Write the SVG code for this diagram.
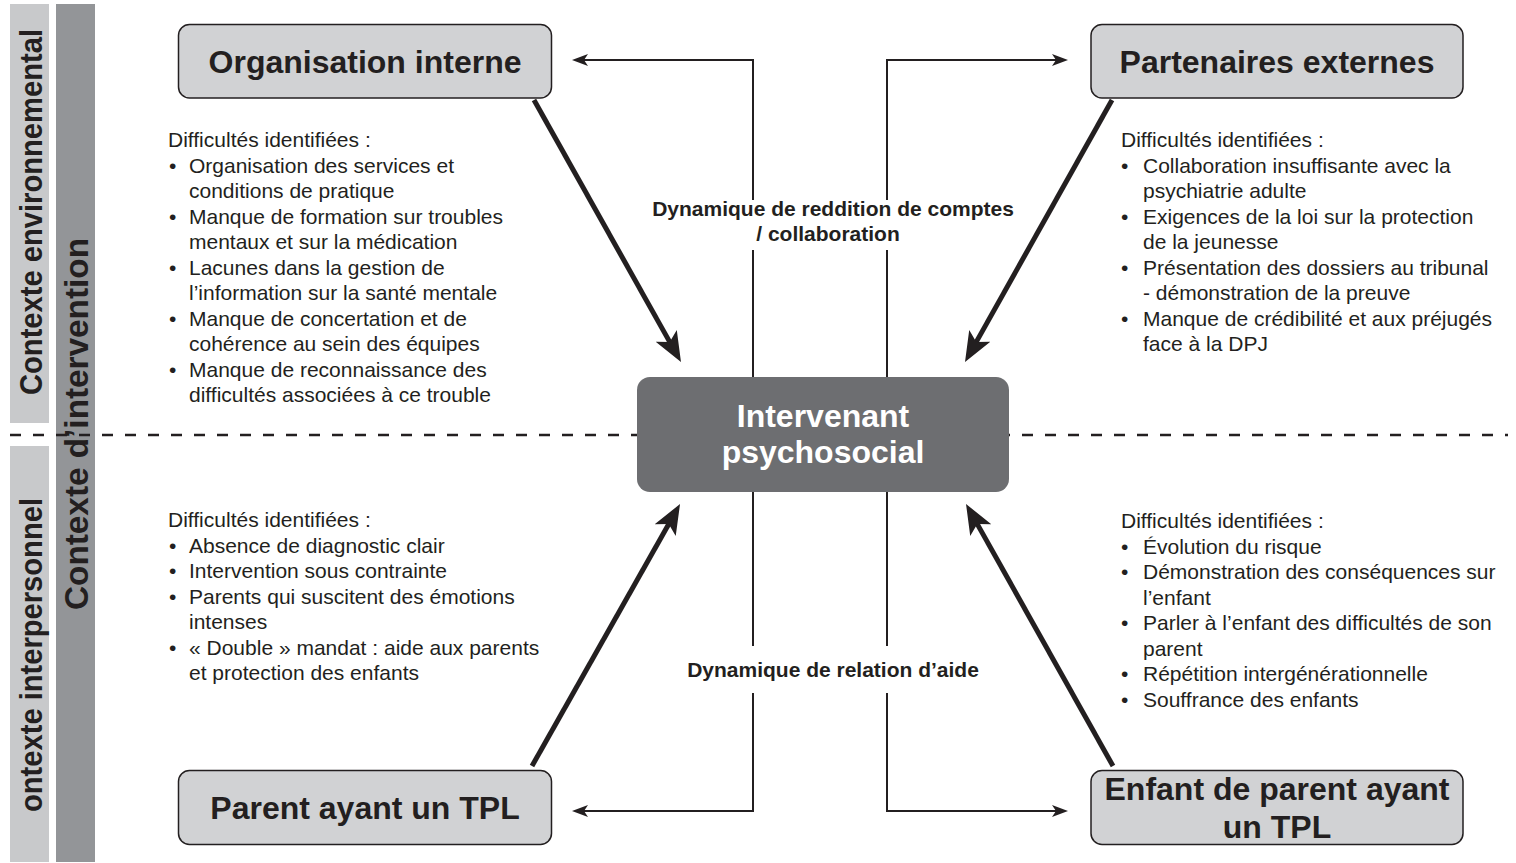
<svg xmlns="http://www.w3.org/2000/svg" width="1516" height="863" viewBox="0 0 1516 863">
<style>
text{font-family:"Liberation Sans",Arial,Helvetica,sans-serif;fill:#231f20}
.bar-l{fill:#c8c9cb}
.bar-d{fill:#939598}
.bar-t{font-size:31px;font-weight:bold;text-anchor:middle}
.node rect{fill:#d1d2d4;stroke:#231f20;stroke-width:1.5}
.title{font-size:32px;font-weight:bold;text-anchor:middle}
.center rect{fill:#6d6e71}
.center text{fill:#ffffff}
.body{font-size:21px}
.lbl{font-size:21px;font-weight:bold;text-anchor:middle}
.thin{fill:none;stroke:#231f20;stroke-width:2}
.thick{fill:none;stroke:#231f20;stroke-width:5}
.dash{fill:none;stroke:#231f20;stroke-width:2.5;stroke-dasharray:11 12}
</style>
<defs>
<marker id="ah" markerUnits="userSpaceOnUse" markerWidth="16" markerHeight="12" viewBox="0 0 16 12" refX="5" refY="6" orient="auto">
<path d="M0,0 L16,6 L0,12 L4,6 z" fill="#231f20"/>
</marker>
<marker id="ahT" markerUnits="userSpaceOnUse" markerWidth="30" markerHeight="24" viewBox="0 0 30 24" refX="10" refY="12" orient="auto">
<path d="M0,0 L30,12 L0,24 L7,12 z" fill="#231f20"/>
</marker>
</defs>
<rect width="1516" height="863" fill="#ffffff"/>

<g id="bars">
<rect class="bar-l" x="10" y="4" width="39" height="419"/>
<rect class="bar-l" x="10" y="446" width="39" height="416"/>
<rect class="bar-d" x="56" y="4" width="39" height="858"/>
<text class="bar-t" transform="translate(42,212) rotate(-90)" textLength="366" lengthAdjust="spacingAndGlyphs">Contexte environnemental</text>
<text class="bar-t" transform="translate(42,655) rotate(-90)" textLength="314" lengthAdjust="spacingAndGlyphs">ontexte interpersonnel</text>
<text class="bar-t" style="font-size:33px" transform="translate(88,424) rotate(-90)" textLength="372" lengthAdjust="spacingAndGlyphs">Contexte d’intervention</text>
</g>

<line id="separator" class="dash" x1="10" y1="435" x2="1508" y2="435"/>

<g id="connectors">
<path class="thin" d="M753,377 V60 H583" marker-end="url(#ah)"/>
<path class="thin" d="M887,377 V60 H1057" marker-end="url(#ah)"/>
<path class="thin" d="M753,492 V811 H583" marker-end="url(#ah)"/>
<path class="thin" d="M887,492 V811 H1057" marker-end="url(#ah)"/>
<line class="thick" x1="534" y1="100" x2="671.2" y2="344.6" marker-end="url(#ahT)"/>
<line class="thick" x1="1112" y1="100" x2="974.8" y2="344.6" marker-end="url(#ahT)"/>
<line class="thick" x1="532" y1="766" x2="670.2" y2="521.4" marker-end="url(#ahT)"/>
<line class="thick" x1="1113" y1="766" x2="975.8" y2="521.4" marker-end="url(#ahT)"/>
<rect x="735" y="200" width="170" height="50" fill="#ffffff"/>
<rect x="735" y="646" width="170" height="47" fill="#ffffff"/>
<text class="lbl" x="833" y="216">Dynamique de reddition de comptes</text>
<text class="lbl" x="828" y="241">/ collaboration</text>
<text class="lbl" x="833" y="677">Dynamique de relation d’aide</text>
</g>

<g id="node-organisation" class="node">
<rect x="178.5" y="24.5" width="373" height="73.5" rx="11"/>
<text class="title" x="365" y="73">Organisation interne</text>
</g>
<g id="node-partenaires" class="node">
<rect x="1091" y="24.5" width="372" height="73.5" rx="11"/>
<text class="title" x="1277" y="73">Partenaires externes</text>
</g>
<g id="node-parent" class="node">
<rect x="178.5" y="770.5" width="373" height="74" rx="11"/>
<text class="title" x="365" y="819">Parent ayant un TPL</text>
</g>
<g id="node-enfant" class="node">
<rect x="1091" y="770.5" width="372" height="74" rx="11"/>
<text class="title" x="1277" y="800">Enfant de parent ayant</text>
<text class="title" x="1277" y="838">un TPL</text>
</g>
<g id="node-intervenant" class="center">
<rect x="637" y="377" width="372" height="115" rx="13"/>
<text class="title" x="823" y="427">Intervenant</text>
<text class="title" x="823" y="463">psychosocial</text>
</g>

<g id="text-organisation" class="body">
<text x="168" y="147">Difficultés identifiées :</text>
<text x="169" y="172.5">•</text><text x="189" y="172.5">Organisation des services et</text>
<text x="189" y="198">conditions de pratique</text>
<text x="169" y="223.5">•</text><text x="189" y="223.5">Manque de formation sur troubles</text>
<text x="189" y="249">mentaux et sur la médication</text>
<text x="169" y="274.5">•</text><text x="189" y="274.5">Lacunes dans la gestion de</text>
<text x="189" y="300">l’information sur la santé mentale</text>
<text x="169" y="325.5">•</text><text x="189" y="325.5">Manque de concertation et de</text>
<text x="189" y="351">cohérence au sein des équipes</text>
<text x="169" y="376.5">•</text><text x="189" y="376.5">Manque de reconnaissance des</text>
<text x="189" y="402">difficultés associées à ce trouble</text>
</g>

<g id="text-partenaires" class="body">
<text x="1121" y="147">Difficultés identifiées :</text>
<text x="1121" y="172.5">•</text><text x="1143" y="172.5">Collaboration insuffisante avec la</text>
<text x="1143" y="198">psychiatrie adulte</text>
<text x="1121" y="223.5">•</text><text x="1143" y="223.5">Exigences de la loi sur la protection</text>
<text x="1143" y="249">de la jeunesse</text>
<text x="1121" y="274.5">•</text><text x="1143" y="274.5">Présentation des dossiers au tribunal</text>
<text x="1143" y="300">- démonstration de la preuve</text>
<text x="1121" y="325.5">•</text><text x="1143" y="325.5">Manque de crédibilité et aux préjugés</text>
<text x="1143" y="351">face à la DPJ</text>
</g>

<g id="text-parent" class="body">
<text x="168" y="527">Difficultés identifiées :</text>
<text x="169" y="552.5">•</text><text x="189" y="552.5">Absence de diagnostic clair</text>
<text x="169" y="578">•</text><text x="189" y="578">Intervention sous contrainte</text>
<text x="169" y="603.5">•</text><text x="189" y="603.5">Parents qui suscitent des émotions</text>
<text x="189" y="629">intenses</text>
<text x="169" y="654.5">•</text><text x="189" y="654.5">« Double » mandat : aide aux parents</text>
<text x="189" y="680">et protection des enfants</text>
</g>

<g id="text-enfant" class="body">
<text x="1121" y="528">Difficultés identifiées :</text>
<text x="1121" y="553.5">•</text><text x="1143" y="553.5">Évolution du risque</text>
<text x="1121" y="579">•</text><text x="1143" y="579">Démonstration des conséquences sur</text>
<text x="1143" y="604.5">l’enfant</text>
<text x="1121" y="630">•</text><text x="1143" y="630">Parler à l’enfant des difficultés de son</text>
<text x="1143" y="655.5">parent</text>
<text x="1121" y="681">•</text><text x="1143" y="681">Répétition intergénérationnelle</text>
<text x="1121" y="706.5">•</text><text x="1143" y="706.5">Souffrance des enfants</text>
</g>
</svg>
